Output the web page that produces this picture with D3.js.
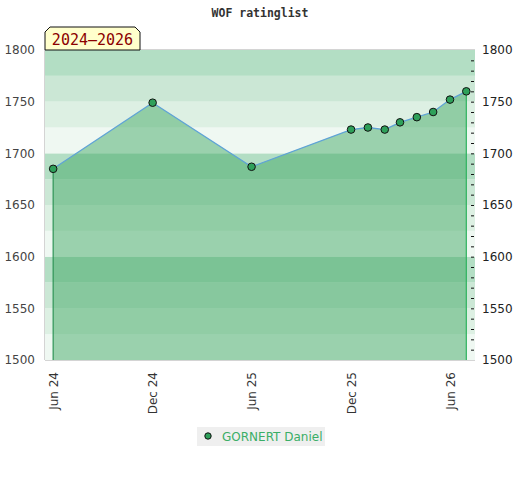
<!DOCTYPE html>
<html>
<head>
<meta charset="utf-8">
<script src="https://cdn.jsdelivr.net/npm/d3@7"></script>
<style>
  body { margin: 0; background: #fff; }
  text { font-family: "DejaVu Sans", sans-serif; }
</style>
</head>
<body>
<div id="chart"></div>
<script>
// rating list dates and values
var listDates = ["2024-06-01", "2024-12-01", "2025-06-01", "2025-12-01", "2026-01-01",
  "2026-02-01", "2026-03-01", "2026-04-01", "2026-05-01", "2026-06-01", "2026-07-01"];
var ratings = [1685, 1749, 1687, 1723, 1725, 1723, 1730, 1735, 1740, 1752, 1760];
var tickDates = ["2024-06-01", "2024-12-01", "2025-06-01", "2025-12-01", "2026-06-01"];
var yTicks = [1500, 1550, 1600, 1650, 1700, 1750, 1800];
var playerName = "GORNERT Daniel";
var chartTitle = "WOF ratinglist";
var periodLabel = "2024\u20132026";

var W = 520, H = 480;
var margin = {top: 50, right: 45, bottom: 120, left: 45};
var parse = d3.timeParse("%Y-%m-%d");
var fmt = d3.timeFormat("%b %y");

var data = listDates.map(function(d, i) { return {date: parse(d), r: ratings[i]}; });

var svg = d3.select("#chart").append("svg")
  .attr("width", W).attr("height", H);

var x = d3.scaleTime()
  .domain([parse("2024-05-17"), parse("2026-07-17")])
  .range([margin.left, W - margin.right]);
var y = d3.scaleLinear()
  .domain([1500, 1800])
  .range([H - margin.bottom, margin.top]);

// background bands, 25 points each, shade repeats every 100
var bandColors = ["#eff8f2", "#ddf0e3", "#cbe7d5", "#b3dec4"];
var bands = d3.range(1500, 1800, 25);
svg.append("g").selectAll("rect")
  .data(bands).enter().append("rect")
  .attr("x", x.range()[0])
  .attr("width", x.range()[1] - x.range()[0])
  .attr("y", function(d) { return y(d + 25); })
  .attr("height", function(d) { return y(d) - y(d + 25); })
  .attr("fill", function(d) { return bandColors[((d - 1500) / 25) % 4]; });

// plot frame
svg.append("line").attr("x1", x.range()[0]).attr("x2", x.range()[1])
  .attr("y1", y(1800) - 0.5).attr("y2", y(1800) - 0.5).attr("stroke", "#d4d4d4");
svg.append("line").attr("x1", x.range()[0]).attr("x2", x.range()[1])
  .attr("y1", y(1500) + 0.5).attr("y2", y(1500) + 0.5).attr("stroke", "#d4d4d4");
svg.append("line").attr("x1", x.range()[0] - 0.5).attr("x2", x.range()[0] - 0.5)
  .attr("y1", y(1800)).attr("y2", y(1500)).attr("stroke", "#d4d4d4");

// area under the rating line
var area = d3.area()
  .x(function(d) { return x(d.date); })
  .y0(y(1500))
  .y1(function(d) { return y(d.r); });
svg.append("path").datum(data)
  .attr("d", area)
  .attr("fill", "rgb(59,166,95)")
  .attr("fill-opacity", 0.47);

// drop lines at first and last point
var first = data[0], last = data[data.length - 1];
svg.append("line")
  .attr("x1", x(first.date)).attr("x2", x(first.date))
  .attr("y1", y(first.r)).attr("y2", y(1500))
  .attr("stroke", "#2f9457").attr("stroke-width", 1.2);
svg.append("line")
  .attr("x1", x(last.date)).attr("x2", x(last.date))
  .attr("y1", y(last.r)).attr("y2", y(1500))
  .attr("stroke", "#2db35d").attr("stroke-width", 1.2);

var line = d3.line()
  .x(function(d) { return x(d.date); })
  .y(function(d) { return y(d.r); });
svg.append("path").datum(data)
  .attr("d", line)
  .attr("fill", "none")
  .attr("stroke", "#5fa3d6")
  .attr("stroke-width", 1.3);

svg.append("g").selectAll("circle")
  .data(data).enter().append("circle")
  .attr("cx", function(d) { return x(d.date); })
  .attr("cy", function(d) { return y(d.r); })
  .attr("r", 3.8)
  .attr("fill", "#2ea05a")
  .attr("stroke", "#111")
  .attr("stroke-width", 1);

// left axis
var yLeft = svg.append("g")
  .attr("transform", "translate(" + (margin.left - 10) + ",0)")
  .call(d3.axisLeft(y).tickValues(yTicks).tickSize(0).tickPadding(0).tickFormat(d3.format("d")));
yLeft.select(".domain").remove();
yLeft.selectAll("text").style("font-size", "12px").attr("fill", "#444");

// right axis with minor ticks every 10
var yRightMinor = svg.append("g")
  .attr("transform", "translate(" + (x.range()[1] - 1) + ",0)")
  .call(d3.axisLeft(y).tickValues(d3.range(1510, 1800, 10)).tickSize(3).tickFormat(""));
yRightMinor.select(".domain").remove();
yRightMinor.selectAll("line").attr("stroke", "#111");

var yRight = svg.append("g")
  .attr("transform", "translate(" + (x.range()[1] + 7) + ",0)")
  .call(d3.axisRight(y).tickValues(yTicks).tickSize(0).tickPadding(0).tickFormat(d3.format("d")));
yRight.select(".domain").remove();
yRight.selectAll("text").style("font-size", "12px").attr("fill", "#222");

// x axis, rotated month labels
var xAxis = svg.append("g")
  .attr("transform", "translate(0," + (y(1500) + 12) + ")")
  .call(d3.axisBottom(x).tickValues(tickDates.map(parse)).tickSize(0).tickFormat(fmt));
xAxis.select(".domain").remove();
xAxis.selectAll("text")
  .style("font-size", "12px")
  .attr("fill", "#333")
  .attr("text-anchor", "end")
  .attr("transform", "rotate(-90)")
  .attr("x", 0).attr("y", 0).attr("dx", 0).attr("dy", "0.35em");

// title
svg.append("text")
  .attr("x", 260).attr("y", 17)
  .attr("text-anchor", "middle")
  .style("font-family", "'DejaVu Sans Mono', monospace")
  .style("font-size", "11.5px")
  .style("font-weight", "bold")
  .attr("fill", "#333")
  .text(chartTitle);

// period label box with cut top corners
var bx0 = 45, bx1 = 140, by0 = 27, by1 = 50, c = 5;
svg.append("path")
  .attr("d", "M" + bx0 + "," + by1 + "L" + bx0 + "," + (by0 + c) + "L" + (bx0 + c) + "," + by0 +
    "L" + (bx1 - c) + "," + by0 + "L" + bx1 + "," + (by0 + c) + "L" + bx1 + "," + by1 + "Z")
  .attr("fill", "#ffffcc")
  .attr("stroke", "#111")
  .attr("stroke-width", 1);
svg.append("text")
  .attr("x", (bx0 + bx1) / 2).attr("y", 45)
  .attr("text-anchor", "middle")
  .style("font-family", "'DejaVu Sans Mono', monospace")
  .style("font-size", "15px")
  .attr("fill", "#8b0000")
  .text(periodLabel);

// legend
var leg = svg.append("g");
leg.append("rect")
  .attr("x", 197).attr("y", 427).attr("width", 128).attr("height", 19)
  .attr("fill", "#efefef");
leg.append("circle")
  .attr("cx", 208).attr("cy", 436).attr("r", 3.2)
  .attr("fill", "#2ea05a").attr("stroke", "#111");
leg.append("text")
  .attr("x", 222).attr("y", 441)
  .style("font-size", "12px")
  .attr("fill", "#3aae66")
  .text(playerName);
</script>
</body>
</html>
